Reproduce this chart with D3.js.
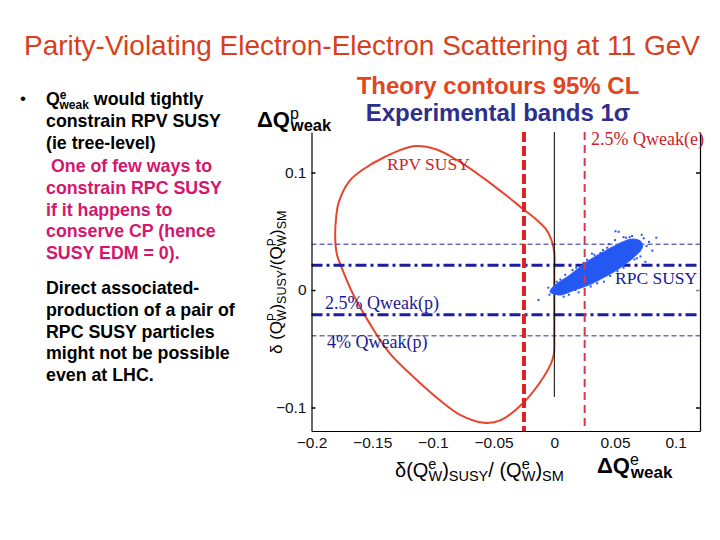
<!DOCTYPE html>
<html><head><meta charset="utf-8">
<script src="https://cdn.jsdelivr.net/npm/d3@7"></script>
<style>body{margin:0;background:#fff}svg{display:block}</style>
</head><body>
<svg id="c" width="720" height="540"></svg>
<script>
// ---- data ----
const xTicks = [-0.2, -0.15, -0.1, -0.05, 0, 0.05, 0.1];
const yTicks = [-0.1, 0, 0.1];
const xDomain = [-0.2, 0.12];
const yDomain = [-0.12, 0.1345];
// RPV SUSY 95% CL contour [x, y]
const rpvContour = [
  [-0.1163, 0.1223], [-0.140, 0.113], [-0.157, 0.103], [-0.1686, 0.0929], [-0.1775, 0.075],
  [-0.1796, 0.0629], [-0.1805, 0.045], [-0.1790, 0.030], [-0.1755, 0.020], [-0.166, -0.003],
  [-0.152, -0.0286], [-0.1355, -0.054], [-0.116, -0.074], [-0.094, -0.094], [-0.078, -0.106],
  [-0.058, -0.113], [-0.0446, -0.111], [-0.0253, -0.0957], [-0.0088, -0.074], [-0.0025, -0.062],
  [-0.0003, -0.054], [0.0, -0.040], [0.0, -0.010], [0.0, 0.015], [0.0, 0.032],
  [-0.0025, 0.043], [-0.007, 0.052], [-0.016, 0.061], [-0.0253, 0.0686], [-0.039, 0.080],
  [-0.058, 0.095], [-0.0777, 0.109], [-0.097, 0.1196]
];
// RPC SUSY dense scatter band outline [x, y]
const rpcBand = [
  [-0.0033, -0.0014], [0.005, -0.004], [0.016, 0.0], [0.027, 0.004], [0.038, 0.0095],
  [0.049, 0.0156], [0.058, 0.022], [0.0655, 0.0283], [0.0725, 0.0369], [0.0700, 0.0420],
  [0.0628, 0.0431], [0.053, 0.0390], [0.0436, 0.034], [0.035, 0.029], [0.027, 0.024],
  [0.0132, 0.0128], [-0.0006, 0.0028]
];
// RPC SUSY scattered points outside the dense band [x, y]
const rpcPoints = [
  [0.053, 0.0496], [0.084, 0.0445], [0.076, 0.0374], [-0.013, -0.0085], [0.075, 0.024],
  [0.060, 0.0298], [0.0408, 0.0071], [0.0077, -0.0057], [0.003, -0.0026], [0.050, 0.0425],
  [0.067, 0.0369], [0.0436, 0.036], [0.027, 0.0258], [0.0215, 0.0113], [0.0736, 0.044],
  [0.0807, 0.0335], [0.0545, 0.0255], [0.0353, 0.0057], [0.0174, 0.0], [0.038, 0.0315],
  [0.0504, 0.050], [0.071, 0.0286], [0.068, 0.027], [0.064, 0.046], [0.057, 0.045],
  [0.045, 0.039], [0.031, 0.031], [0.015, 0.017], [0.005, 0.009], [0.012, -0.004],
  [0.030, 0.003], [0.046, 0.012], [0.057, 0.019], [0.066, 0.026], [0.078, 0.041],
  [0.072, 0.047], [0.062, 0.045], [0.040, 0.034], [0.024, 0.023], [0.009, 0.013],
  [0.002, 0.007], [-0.005, 0.002], [0.020, -0.002], [0.034, 0.008], [0.052, 0.016],
  [0.070, 0.033], [0.059, 0.0445], [0.033, 0.030], [0.018, 0.019], [-0.004, -0.004]
];
const vLines = [
  {x: -0.025, style: "thick"},
  {x: 0.025, style: "thin"}
];
const hBands1 = [0.021, -0.021];   // 2.5% Qweak(p)
const hBands2 = [0.039, -0.039];   // 4% Qweak(p)
const bulletBlack1 = ["constrain RPV SUSY", "(ie tree-level)"];
const bulletPink = [" One of few ways to", "constrain RPC SUSY", "if it happens to", "conserve CP (hence", "SUSY EDM = 0)."];
const bulletBlack2 = ["Direct associated-", "production of a pair of", "RPC SUSY particles", "might not be possible", "even at LHC."];

// ---- drawing ----
const svg = d3.select("#c");
svg.append("rect").attr("width", 720).attr("height", 540).attr("fill", "#fff");
const x = d3.scaleLinear().domain(xDomain).range([311.5, 700]);
const y = d3.scaleLinear().domain(yDomain).range([431, 132]);
const F = "Arial, Liberation Sans, sans-serif";

// title
svg.append("text").attr("x", 362).attr("y", 55).attr("text-anchor", "middle")
  .attr("font-family", F).attr("font-size", 28)
  .attr("fill", "#d8401c").text("Parity-Violating Electron-Electron Scattering at 11 GeV");

// left text block
const LF = 17.8;
svg.append("text").attr("x", 20).attr("y", 104).attr("font-family", F).attr("font-size", 17).text("•");
const t1 = svg.append("text").attr("x", 46).attr("y", 105).attr("font-family", F)
  .attr("font-size", LF).attr("font-weight", "bold").attr("fill", "#000");
t1.append("tspan").text("Q");
t1.append("tspan").attr("font-size", 12).attr("dy", -6).text("e");
t1.append("tspan").attr("font-size", 12).attr("dx", -7).attr("dy", 10).text("weak");
t1.append("tspan").attr("dy", -4).text(" would tightly");
bulletBlack1.forEach((s, i) => svg.append("text").attr("x", 46).attr("y", 127 + i * 21.7)
  .attr("font-family", F).attr("font-size", LF).attr("font-weight", "bold").attr("fill", "#000").text(s));
bulletPink.forEach((s, i) => svg.append("text").attr("x", 46).attr("y", 172 + i * 21.8)
  .attr("font-family", F).attr("font-size", LF).attr("font-weight", "bold").attr("fill", "#d4166e")
  .attr("xml:space", "preserve").style("white-space", "pre").text(s));
bulletBlack2.forEach((s, i) => svg.append("text").attr("x", 46).attr("y", 294 + i * 21.8)
  .attr("font-family", F).attr("font-size", LF).attr("font-weight", "bold").attr("fill", "#000").text(s));

// header texts
svg.append("text").attr("x", 498).attr("y", 94).attr("text-anchor", "middle").attr("font-family", F)
  .attr("font-size", 24).attr("font-weight", "bold").attr("fill", "#e2461e").text("Theory contours 95% CL");
svg.append("text").attr("x", 498).attr("y", 121).attr("text-anchor", "middle").attr("font-family", F)
  .attr("font-size", 24).attr("font-weight", "bold").attr("fill", "#2e2e8c").text("Experimental bands 1σ");
const dq = svg.append("text").attr("x", 257).attr("y", 127).attr("font-family", F)
  .attr("font-size", 22).attr("font-weight", "bold").attr("fill", "#000");
dq.append("tspan").text("ΔQ");
dq.append("tspan").attr("font-size", 16).attr("font-weight", "normal").attr("dy", -8).text("p");
dq.append("tspan").attr("font-size", 16.5).attr("dx", -8).attr("dy", 12).text("weak");

// plot: contour
svg.append("path").datum(rpvContour)
  .attr("d", d3.line().x(d => x(d[0])).y(d => y(d[1])).curve(d3.curveCatmullRomClosed.alpha(0.5)))
  .attr("fill", "none").attr("stroke", "#e8452c").attr("stroke-width", 2);

// horizontal bands
hBands2.forEach(v => svg.append("line").attr("x1", x(xDomain[0])).attr("x2", x(xDomain[1]))
  .attr("y1", y(v)).attr("y2", y(v)).attr("stroke", "#2a2a88").attr("stroke-width", 1)
  .attr("stroke-dasharray", "5,3"));
hBands1.forEach(v => svg.append("line").attr("x1", x(xDomain[0])).attr("x2", x(xDomain[1]))
  .attr("y1", y(v)).attr("y2", y(v)).attr("stroke", "#1c1ca0").attr("stroke-width", 3)
  .attr("stroke-dasharray", "11,4,3,4"));

// black vertical at 0
svg.append("line").attr("x1", x(0)).attr("x2", x(0)).attr("y1", y(yDomain[1])).attr("y2", y(-0.091))
  .attr("stroke", "#000").attr("stroke-width", 1);

// RPC scatter
svg.append("path").datum(rpcBand)
  .attr("d", d3.line().x(d => x(d[0])).y(d => y(d[1])).curve(d3.curveCatmullRomClosed))
  .attr("fill", "#2358f2").attr("stroke", "#2a5cff").attr("stroke-width", 1.5);
svg.append("g").selectAll("rect").data(rpcPoints).join("rect")
  .attr("x", d => x(d[0]) - 1).attr("y", d => y(d[1]) - 1).attr("width", 2).attr("height", 2)
  .attr("fill", "#2a55f5");

// vertical red dashed lines
vLines.forEach(v => svg.append("line").attr("x1", x(v.x)).attr("x2", x(v.x))
  .attr("y1", y(yDomain[1])).attr("y2", y(yDomain[0]))
  .attr("stroke", v.style === "thick" ? "#dc2222" : "#d83848")
  .attr("stroke-width", v.style === "thick" ? 4 : 2)
  .attr("stroke-dasharray", v.style === "thick" ? "10,4" : "8,5"));

// axes
const fmt = d => d === 0 ? "0" : d3.format("")(d);
const gx = svg.append("g").attr("transform", `translate(0,${y(yDomain[0])})`)
  .call(d3.axisBottom(x).tickValues(xTicks).tickFormat(fmt).tickSizeInner(0).tickSizeOuter(0).tickPadding(6));
const gy = svg.append("g").attr("transform", `translate(${x(xDomain[0])},0)`)
  .call(d3.axisLeft(y).tickValues(yTicks).tickFormat(fmt).tickSizeInner(-4).tickSizeOuter(0).tickPadding(5));
const gr = svg.append("g").attr("transform", `translate(${x(xDomain[1])},0)`)
  .call(d3.axisRight(y).tickValues(yTicks).tickFormat("").tickSizeInner(-4).tickSizeOuter(0));
[gx, gy, gr].forEach(g => {
  g.select(".domain").attr("stroke", "#000").attr("stroke-width", 1.2);
  g.selectAll(".tick line").attr("stroke", "#000").attr("stroke-width", 1.5);
  g.selectAll("text").attr("font-family", F).attr("font-size", 15.5).attr("fill", "#111");
});
gr.selectAll(".tick line").filter(d => d === 0).attr("stroke", "#888");

// in-plot labels (serif)
const S = "'Liberation Serif', 'Times New Roman', serif";
svg.append("text").attr("x", 387).attr("y", 170).attr("font-family", S).attr("font-size", 17.5).attr("fill", "#cc2228").text("RPV SUSY");
svg.append("text").attr("x", 591).attr("y", 145).attr("font-family", S).attr("font-size", 18).attr("fill", "#cc2228").text("2.5% Qweak(e)");
svg.append("text").attr("x", 615).attr("y", 284).attr("font-family", S).attr("font-size", 17.5).attr("fill", "#1a1a96").text("RPC SUSY");
svg.append("text").attr("x", 325).attr("y", 309).attr("font-family", S).attr("font-size", 18).attr("fill", "#1a1a96").text("2.5% Qweak(p)");
svg.append("text").attr("x", 327).attr("y", 348).attr("font-family", S).attr("font-size", 18).attr("fill", "#1a1a96").text("4% Qweak(p)");

// y label
const yl = svg.append("text").attr("transform", "translate(282,354) rotate(-90)")
  .attr("font-family", F).attr("font-size", 17).attr("fill", "#000");
yl.append("tspan").text("δ (Q");
yl.append("tspan").attr("font-size", 12).attr("dy", -6).text("P");
yl.append("tspan").attr("font-size", 12).attr("dx", -8).attr("dy", 10).text("W");
yl.append("tspan").attr("dy", -4).text(")");
yl.append("tspan").attr("font-size", 12.5).attr("dy", 4).text("SUSY");
yl.append("tspan").attr("dy", -4).text("/(Q");
yl.append("tspan").attr("font-size", 12).attr("dy", -6).text("P");
yl.append("tspan").attr("font-size", 12).attr("dx", -8).attr("dy", 10).text("W");
yl.append("tspan").attr("dy", -4).text(")");
yl.append("tspan").attr("font-size", 12.5).attr("dy", 4).text("SM");

// x label
const xl = svg.append("text").attr("x", 395).attr("y", 477).attr("font-family", F).attr("font-size", 20).attr("fill", "#000");
xl.append("tspan").text("δ(Q");
xl.append("tspan").attr("font-size", 14.5).attr("dy", -8).text("e");
xl.append("tspan").attr("font-size", 14.5).attr("dx", -8).attr("dy", 12).text("W");
xl.append("tspan").attr("dy", -4).text(")");
xl.append("tspan").attr("font-size", 14.5).attr("dy", 4).text("SUSY");
xl.append("tspan").attr("dy", -4).text("/ (Q");
xl.append("tspan").attr("font-size", 14.5).attr("dy", -8).text("e");
xl.append("tspan").attr("font-size", 14.5).attr("dx", -8).attr("dy", 12).text("W");
xl.append("tspan").attr("dy", -4).text(")");
xl.append("tspan").attr("font-size", 14.5).attr("dy", 4).text("SM");

const dqe = svg.append("text").attr("x", 597).attr("y", 473).attr("font-family", F)
  .attr("font-size", 22).attr("font-weight", "bold").attr("fill", "#000");
dqe.append("tspan").text("ΔQ");
dqe.append("tspan").attr("font-size", 16).attr("font-weight", "normal").attr("dy", -8).text("e");
dqe.append("tspan").attr("font-size", 17).attr("dx", -8).attr("dy", 13).text("weak");
</script>
</body></html>
